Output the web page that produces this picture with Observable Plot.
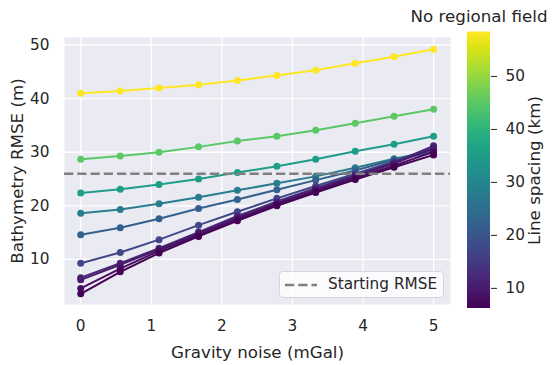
<!DOCTYPE html>
<html><head><meta charset="utf-8">
<script src="https://cdn.jsdelivr.net/npm/d3@7"></script>
<script src="https://cdn.jsdelivr.net/npm/@observablehq/plot@0.6"></script>
<style>
body{margin:0;background:#fff;}
#wrap{position:relative;width:556px;height:365px;font-family:"DejaVu Sans",sans-serif;color:#262626;}
#wrap svg.layer{position:absolute;left:0;top:0;}
#legend{position:absolute;left:279px;top:271px;width:163px;height:25px;border:1px solid #d6d6da;border-radius:4px;background:rgba(255,255,255,0.8);}
#legend span{position:absolute;left:48px;top:5px;font-size:15.3px;line-height:1;white-space:nowrap;}
</style></head>
<body><div id="wrap"></div>
<script>
// Gravity noise levels (mGal)
const noise = [0, 0.56, 1.11, 1.67, 2.22, 2.78, 3.33, 3.89, 4.44, 5];
// Line spacing (km) of each series
const spacing = [6.2, 8, 10, 12, 17, 22, 28, 35, 45, 58.3];
// Bathymetry RMSE (m) per series, same order as spacing
const rmse_6 = [3.6, 7.7, 11.2, 14.3, 17.2, 20.0, 22.5, 24.9, 27.2, 29.5];
const rmse_8 = [4.6, 8.3, 11.6, 14.6, 17.5, 20.3, 22.8, 25.2, 27.5, 30.1];
const rmse_10 = [6.2, 9.0, 11.9, 14.9, 17.8, 20.5, 23.0, 25.5, 27.9, 30.8];
const rmse_12 = [6.6, 9.3, 12.1, 15.1, 18.1, 20.8, 23.3, 25.7, 28.1, 31.2];
const rmse_17 = [9.3, 11.3, 13.7, 16.4, 18.9, 21.4, 23.7, 26.0, 28.3, 30.5];
const rmse_22 = [14.6, 15.9, 17.6, 19.5, 21.2, 23.0, 24.8, 26.6, 28.6, 30.0];
const rmse_28 = [18.6, 19.3, 20.4, 21.6, 22.9, 24.2, 25.5, 27.1, 28.8, 30.3];
const rmse_35 = [22.4, 23.1, 24.0, 25.0, 26.2, 27.4, 28.7, 30.2, 31.5, 33.0];
const rmse_45 = [28.7, 29.3, 30.0, 31.0, 32.1, 33.0, 34.1, 35.4, 36.7, 38.0];
const rmse_58 = [41.0, 41.4, 42.0, 42.6, 43.4, 44.3, 45.3, 46.6, 47.8, 49.2];
const rmseSeries = [rmse_6, rmse_8, rmse_10, rmse_12, rmse_17, rmse_22, rmse_28, rmse_35, rmse_45, rmse_58];
const startingRMSE = 26;
const xTicks = [0, 1, 2, 3, 4, 5];
const yTicks = [10, 20, 30, 40, 50];
const cbTicks = [10, 20, 30, 40, 50];

const [lo, hi] = d3.extent(spacing);
const color = {type: "linear", scheme: "viridis", domain: [lo, hi]};
const ink = "#262626";

const marks = [
  Plot.frame({fill: "#eaeaf2", stroke: null}),
  Plot.gridX(xTicks, {stroke: "#fff", strokeOpacity: 1, strokeWidth: 1.3}),
  Plot.gridY(yTicks, {stroke: "#fff", strokeOpacity: 1, strokeWidth: 1.3})
];
// draw widest spacing first so darkest lines sit on top
for (let s = spacing.length - 1; s >= 0; s--) {
  const rows = noise.map((n, i) => ({noise: n, rmse: rmseSeries[s][i], spacing: spacing[s]}));
  marks.push(Plot.line(rows, {x: "noise", y: "rmse", stroke: "spacing", strokeWidth: 2}));
  marks.push(Plot.dot(rows, {x: "noise", y: "rmse", fill: "spacing", r: 3.5}));
}
marks.push(Plot.ruleY([startingRMSE], {stroke: "#808080", strokeWidth: 2.5, strokeDasharray: "9.25,4"}));
marks.push(Plot.axisX(xTicks, {tickSize: 0, tickPadding: 16, label: null, tickFormat: d => String(d)}));
marks.push(Plot.axisY(yTicks, {tickSize: 0, tickPadding: 15, label: null, tickFormat: d => String(d)}));
marks.push(Plot.text(["Gravity noise (mGal)"], {text: d => d, frameAnchor: "bottom", textAnchor: "middle", dy: 53, lineAnchor: "bottom", fontSize: 16.7, fill: ink}));
marks.push(Plot.text(["Bathymetry RMSE (m)"], {text: d => d, frameAnchor: "left", textAnchor: "middle", rotate: -90, dx: -42, lineAnchor: "bottom", fontSize: 16.7, fill: ink}));

const main = Plot.plot({
  width: 556, height: 365,
  marginLeft: 64, marginRight: 106, marginTop: 37, marginBottom: 61,
  x: {domain: [-0.23, 5.24]},
  y: {domain: [1.6, 51.4]},
  color,
  style: {fontFamily: "DejaVu Sans", fontSize: "15.3px", color: ink, background: "white"},
  marks
});
main.classList.add("layer");

const nSteps = 276;
const steps = d3.range(nSteps).map(i => ({a: lo + (hi - lo) * i / nSteps, b: lo + (hi - lo) * (i + 1) / nSteps}));
const cbar = Plot.plot({
  width: 556, height: 365,
  marginLeft: 467, marginRight: 66, marginTop: 32, marginBottom: 57,
  y: {domain: [lo, hi]},
  color,
  style: {fontFamily: "DejaVu Sans", fontSize: "15.3px", color: ink, background: "transparent"},
  marks: [
    Plot.rect(steps, {y1: "a", y2: d => d.b + (d.b - d.a) * 0.5, fill: d => (d.a + d.b) / 2, inset: 0}),
    Plot.axisY(cbTicks, {anchor: "right", tickSize: 6, tickPadding: 9, label: null, tickFormat: d => String(d)}),
    Plot.text(["Line spacing (km)"], {text: d => d, frameAnchor: "right", textAnchor: "middle", rotate: -90, dx: 49.5, lineAnchor: "bottom", fontSize: 16.7, fill: ink}),
    Plot.text(["No regional field"], {text: d => d, frameAnchor: "top", textAnchor: "middle", dy: -11, lineAnchor: "bottom", fontSize: 16.7, fill: ink})
  ]
});
cbar.classList.add("layer");

const wrap = document.getElementById("wrap");
wrap.appendChild(main);
wrap.appendChild(cbar);

const legend = document.createElement("div");
legend.id = "legend";
legend.innerHTML = '<svg width="34" height="10" style="position:absolute;left:5px;top:8px"><line x1="0" x2="32" y1="5" y2="5" stroke="#808080" stroke-width="2.5" stroke-dasharray="9.25,4"/></svg><span>Starting RMSE</span>';
wrap.appendChild(legend);
</script>
</body></html>
